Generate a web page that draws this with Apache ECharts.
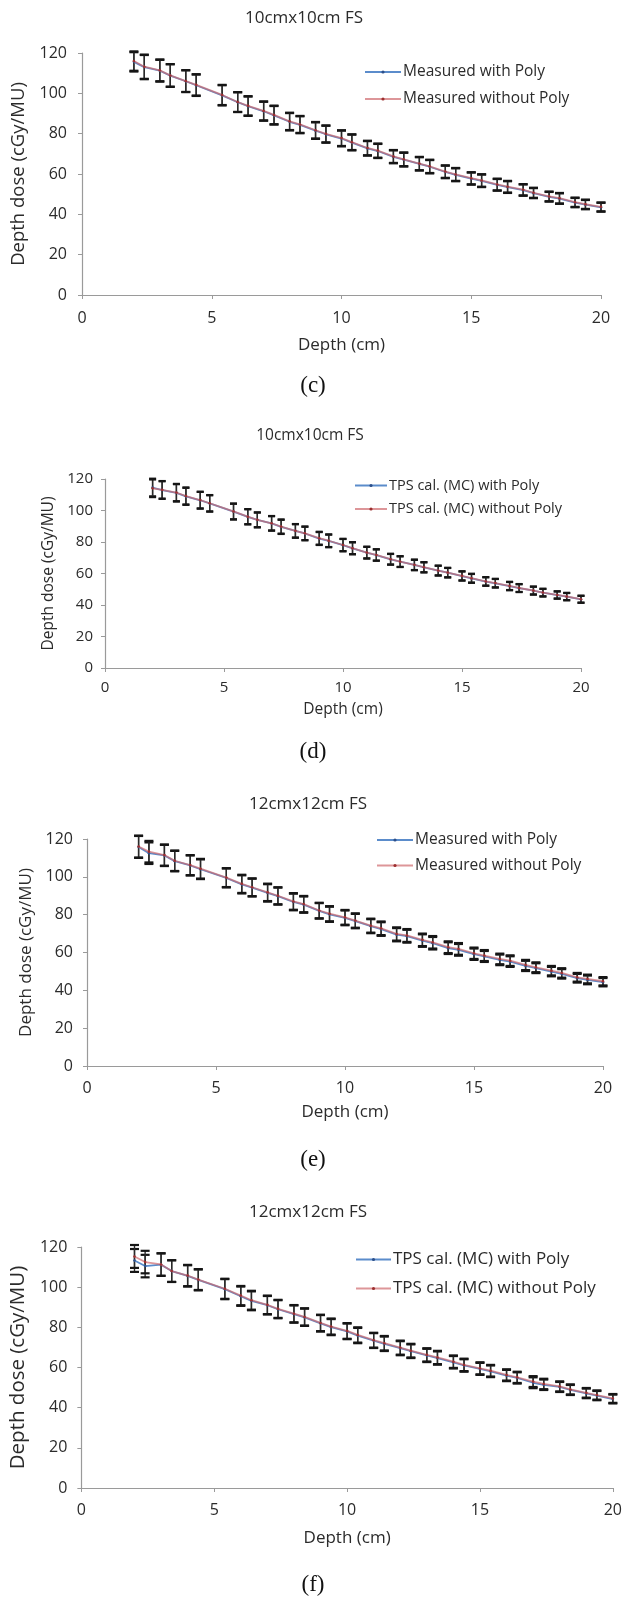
<!DOCTYPE html>
<html>
<head>
<meta charset="utf-8">
<script src="https://cdn.jsdelivr.net/npm/echarts@6/dist/echarts.min.js"></script>
<style>
html,body{margin:0;padding:0;background:#fff;}
#chart{width:625px;height:1598px;}
</style>
</head>
<body>
<div id="chart"></div>
<script>
// ---- data ----
const depths = [2, 2.4, 3, 3.4, 4, 4.4, 5.4, 6, 6.4, 7, 7.4, 8, 8.4, 9, 9.4, 10, 10.4, 11, 11.4, 12, 12.4, 13, 13.4, 14, 14.4, 15, 15.4, 16, 16.4, 17, 17.4, 18, 18.4, 19, 19.4, 20];

const cWith    = [115.6, 113.0, 111.2, 108.8, 106.0, 104.0, 99.0, 95.6, 93.6, 91.1, 89.1, 85.9, 84.4, 81.5, 79.7, 77.6, 75.6, 72.7, 71.4, 68.5, 67.1, 65.0, 63.6, 61.0, 59.6, 57.7, 56.6, 54.6, 53.5, 52.0, 50.5, 48.7, 47.8, 45.8, 44.8, 43.5];
const cWithout = [116.0, 113.2, 111.4, 108.9, 106.1, 104.2, 99.2, 95.7, 93.8, 91.3, 89.3, 86.1, 84.6, 81.7, 79.9, 77.8, 75.8, 72.9, 71.6, 68.7, 67.3, 65.2, 63.8, 61.2, 59.8, 57.9, 56.8, 54.8, 53.7, 52.2, 50.7, 48.9, 48.0, 46.0, 45.0, 43.7];
const cErr     = [4.8, 6.0, 5.4, 5.6, 5.4, 5.3, 5.0, 4.9, 4.8, 4.7, 4.6, 4.3, 4.2, 4.1, 4.2, 3.9, 3.9, 3.6, 3.5, 3.2, 3.4, 3.3, 3.3, 3.1, 3.2, 3.0, 3.1, 2.9, 2.9, 2.8, 2.5, 2.4, 2.6, 2.3, 2.3, 2.2];

const dWith    = [114.6, 113.0, 111.2, 109.0, 106.5, 104.5, 99.3, 96.0, 94.0, 91.8, 89.6, 87.0, 85.4, 82.2, 80.7, 78.0, 76.0, 73.2, 71.7, 69.0, 67.5, 65.4, 63.9, 61.8, 60.5, 58.4, 56.9, 54.9, 53.8, 52.0, 50.7, 49.1, 47.8, 46.3, 45.3, 43.6];
const dWithout = [114.1, 113.1, 111.4, 109.2, 106.6, 104.6, 99.4, 96.1, 94.1, 91.9, 89.8, 87.1, 85.5, 82.4, 80.8, 78.1, 76.1, 73.3, 71.8, 69.1, 67.6, 65.5, 64.0, 61.9, 60.6, 58.5, 57.0, 55.0, 53.9, 52.1, 50.8, 49.2, 47.9, 46.4, 45.4, 43.7];
const dErr     = [5.6, 5.6, 5.5, 5.4, 5.3, 5.2, 5.0, 4.8, 4.7, 4.6, 4.5, 4.3, 4.3, 4.1, 4.0, 3.9, 3.8, 3.7, 3.6, 3.4, 3.4, 3.3, 3.2, 3.1, 3.0, 2.9, 2.8, 2.7, 2.7, 2.6, 2.5, 2.5, 2.4, 2.3, 2.3, 2.2];

const eWith    = [115.8, 112.5, 111.3, 108.3, 106.0, 104.0, 99.4, 96.0, 94.3, 91.5, 89.8, 86.7, 85.3, 82.0, 80.2, 78.3, 76.6, 73.9, 72.4, 69.4, 68.6, 66.3, 64.9, 62.3, 61.4, 59.1, 57.9, 56.1, 55.2, 52.9, 51.7, 49.9, 48.7, 46.4, 45.5, 44.3];
const eWithout = [116.0, 113.3, 111.5, 108.5, 106.2, 104.3, 99.6, 96.3, 94.5, 91.8, 90.0, 87.0, 85.6, 82.2, 80.5, 78.6, 76.9, 74.2, 72.8, 69.8, 69.0, 66.7, 65.4, 62.8, 61.9, 59.6, 58.4, 56.6, 55.7, 53.4, 52.2, 50.4, 49.2, 46.9, 46.0, 44.8];
const eErr     = [5.8, 5.7, 5.6, 5.4, 5.3, 5.2, 5.0, 4.8, 4.7, 4.6, 4.5, 4.4, 4.3, 4.1, 4.0, 3.9, 3.8, 3.7, 3.6, 3.5, 3.4, 3.3, 3.3, 3.1, 3.1, 3.0, 2.9, 2.8, 2.8, 2.7, 2.6, 2.5, 2.5, 2.3, 2.3, 2.2];

const fWith    = [113.3, 110.5, 111.2, 108.0, 105.6, 103.6, 99.0, 95.5, 93.2, 91.0, 89.0, 86.6, 85.0, 82.0, 80.1, 78.0, 75.9, 73.4, 71.8, 69.6, 68.1, 66.0, 64.7, 62.6, 61.0, 59.3, 58.1, 56.0, 54.8, 52.4, 51.4, 50.3, 48.8, 47.1, 46.0, 44.3];
const fWithout = [115.3, 112.5, 111.3, 108.0, 105.8, 103.8, 99.2, 95.8, 93.5, 91.2, 89.2, 86.8, 85.2, 82.2, 80.4, 78.2, 76.2, 73.6, 72.1, 69.9, 68.4, 66.3, 65.0, 62.9, 61.3, 59.6, 58.4, 56.3, 55.1, 53.0, 51.8, 50.6, 49.1, 47.4, 46.3, 44.6];
const fErr     = [5.7, 5.6, 5.6, 5.4, 5.3, 5.2, 5.0, 4.8, 4.7, 4.6, 4.5, 4.3, 4.3, 4.1, 4.0, 3.9, 3.8, 3.7, 3.6, 3.5, 3.4, 3.3, 3.3, 3.1, 3.1, 3.0, 2.9, 2.8, 2.8, 2.7, 2.6, 2.5, 2.5, 2.4, 2.3, 2.2];

const panelTitles = ['10cmx10cm FS', '10cmx10cm FS', '12cmx12cm FS', '12cmx12cm FS'];
const subCaptions = ['(c)', '(d)', '(e)', '(f)'];
const seriesNames = [
  ['Measured with Poly', 'Measured without Poly'],
  ['TPS cal. (MC) with Poly', 'TPS cal. (MC) without Poly'],
  ['Measured with Poly', 'Measured without Poly'],
  ['TPS cal. (MC) with Poly', 'TPS cal. (MC) without Poly']
];
const xAxisTitle = 'Depth (cm)';
const yAxisTitle = 'Depth dose (cGy/MU)';
const xRange = [0, 20, 5];
const yRange = [0, 120, 20];

const panelData = [
  [cWith, cWithout, cErr],
  [dWith, dWithout, dErr],
  [eWith, eWithout, eErr],
  [fWith, fWithout, fErr]
];

// ---- layout ----
const layout = [
  {left:82, top:53, width:519, height:242, tick:16, name:17, yName:18.5, yGap:50, xGap:42, leg:{left:364, top:64, w:36, font:15.5, gap:11}, title:{x:304, y:10, font:17}, cap:{y:374}, capW:9, lblM:15},
  {left:105, top:479, width:476, height:189, tick:15, name:15.5, yName:15.5, yGap:43, xGap:34, leg:{left:354, top:478, w:32, font:14.5, gap:8.5}, title:{x:310, y:428, font:15.5}, cap:{y:740}, capW:7, lblM:12},
  {left:87, top:839, width:516, height:227, tick:16, name:17, yName:17, yGap:48, xGap:38, leg:{left:376, top:832, w:36, font:15.5, gap:9.5}, title:{x:308, y:796, font:17}, cap:{y:1148}, capW:9, lblM:14},
  {left:75, top:1247, width:540, height:241, tick:16, name:17, yName:20.5, yGap:47, xGap:42, leg:{left:355, top:1251, w:35, font:17, gap:12}, title:{x:308, y:1204, font:17}, cap:{y:1573}, capW:9, lblM:14}
];

const FONT = '"Open Sans", "Liberation Sans", sans-serif';
const TXT = '#2b2b2b';
const BLUE = '#5b8ccb';
const RED = '#cf6a6e';

function errRender(capW) {
  return function (params, api) {
    const x = api.value(0), v = api.value(1), e = api.value(2);
    const hi = api.coord([x, v + e]);
    const lo = api.coord([x, v - e]);
    const half = capW / 2;
    return {
      type: 'group',
      children: [
        {type: 'line', shape: {x1: hi[0], y1: hi[1], x2: lo[0], y2: lo[1]}, style: {stroke: '#2a2a2a', lineWidth: 1.4}},
        {type: 'line', shape: {x1: hi[0] - half, y1: hi[1], x2: hi[0] + half, y2: hi[1]}, style: {stroke: '#151515', lineWidth: 2.2}},
        {type: 'line', shape: {x1: lo[0] - half, y1: lo[1], x2: lo[0] + half, y2: lo[1]}, style: {stroke: '#151515', lineWidth: 2.2}}
      ]
    };
  };
}

const grid = [], xAxis = [], yAxis = [], series = [], legend = [], title = [];

layout.forEach(function (L, p) {
  grid.push({left: L.left, top: L.top, width: L.width, height: L.height, containLabel: false});
  xAxis.push({
    type: 'value', gridIndex: p, min: xRange[0], max: xRange[1], interval: xRange[2],
    name: xAxisTitle, nameLocation: 'middle', nameGap: L.xGap,
    nameTextStyle: {fontFamily: FONT, fontSize: L.name, color: TXT},
    axisLine: {onZero: false, lineStyle: {color: '#9a9a9a', width: 1.2}},
    axisTick: {show: true, inside: false, length: 4, lineStyle: {color: '#9a9a9a'}},
    axisLabel: {fontFamily: FONT, fontSize: L.tick, color: TXT, margin: L.lblM},
    splitLine: {show: false}
  });
  yAxis.push({
    type: 'value', gridIndex: p, min: yRange[0], max: yRange[1], interval: yRange[2],
    name: yAxisTitle, nameLocation: 'middle', nameGap: L.yGap,
    nameTextStyle: {fontFamily: FONT, fontSize: L.yName, color: TXT},
    axisLine: {show: true, onZero: false, lineStyle: {color: '#9a9a9a', width: 1.2}},
    axisTick: {show: true, inside: false, length: 4, lineStyle: {color: '#9a9a9a'}},
    axisLabel: {fontFamily: FONT, fontSize: L.tick, color: TXT, margin: L.lblM},
    splitLine: {show: false}
  });
  const d = panelData[p];
  const names = seriesNames[p];
  const colors = [BLUE, RED];
  const mcolors = ['#2c4f8a', '#9c2f2f'];
  [0, 1].forEach(function (k) {
    series.push({
      type: 'custom', xAxisIndex: p, yAxisIndex: p, z: 3, clip: false,
      renderItem: errRender(L.capW),
      encode: {x: 0, y: 1},
      data: depths.map(function (x, i) { return [x, d[k][i], d[2][i]]; }),
      silent: true
    });
  });
  [0, 1].forEach(function (k) {
    series.push({
      type: 'line', name: names[k], xAxisIndex: p, yAxisIndex: p, z: 4 + k,
      data: depths.map(function (x, i) { return [x, d[k][i]]; }),
      symbol: 'circle', symbolSize: 2.5, showSymbol: true,
      itemStyle: {color: mcolors[k]},
      lineStyle: {color: colors[k], width: 1.8, opacity: k === 1 ? 0.7 : 1},
      animation: false
    });
  });
  legend.push({
    orient: 'vertical', left: L.leg.left, top: L.leg.top, padding: 0,
    itemWidth: L.leg.w, itemHeight: 4, itemGap: L.leg.gap,
    data: names.map(function (n, k) { return {name: n, itemStyle: {color: mcolors[k]}, lineStyle: {color: colors[k]}}; }),
    textStyle: {fontFamily: FONT, fontSize: L.leg.font, color: TXT, padding: [0, 0, 0, -3]},
    selectedMode: false
  });
  title.push({
    text: panelTitles[p], left: L.title.x, top: L.title.y, textAlign: 'center', padding: 0,
    textStyle: {fontFamily: FONT, fontSize: L.title.font, fontWeight: 'normal', color: TXT}
  });
  title.push({
    text: subCaptions[p], left: 313, top: L.cap.y, textAlign: 'center', padding: 0,
    textStyle: {fontFamily: '"Liberation Serif", "DejaVu Serif", serif', fontSize: 23, fontWeight: 'normal', color: '#111'}
  });
});

const chart = echarts.init(document.getElementById('chart'), null, {renderer: 'canvas'});
chart.setOption({
  animation: false,
  backgroundColor: '#ffffff',
  title: title,
  legend: legend,
  grid: grid,
  xAxis: xAxis,
  yAxis: yAxis,
  series: series
});
</script>
</body>
</html>
